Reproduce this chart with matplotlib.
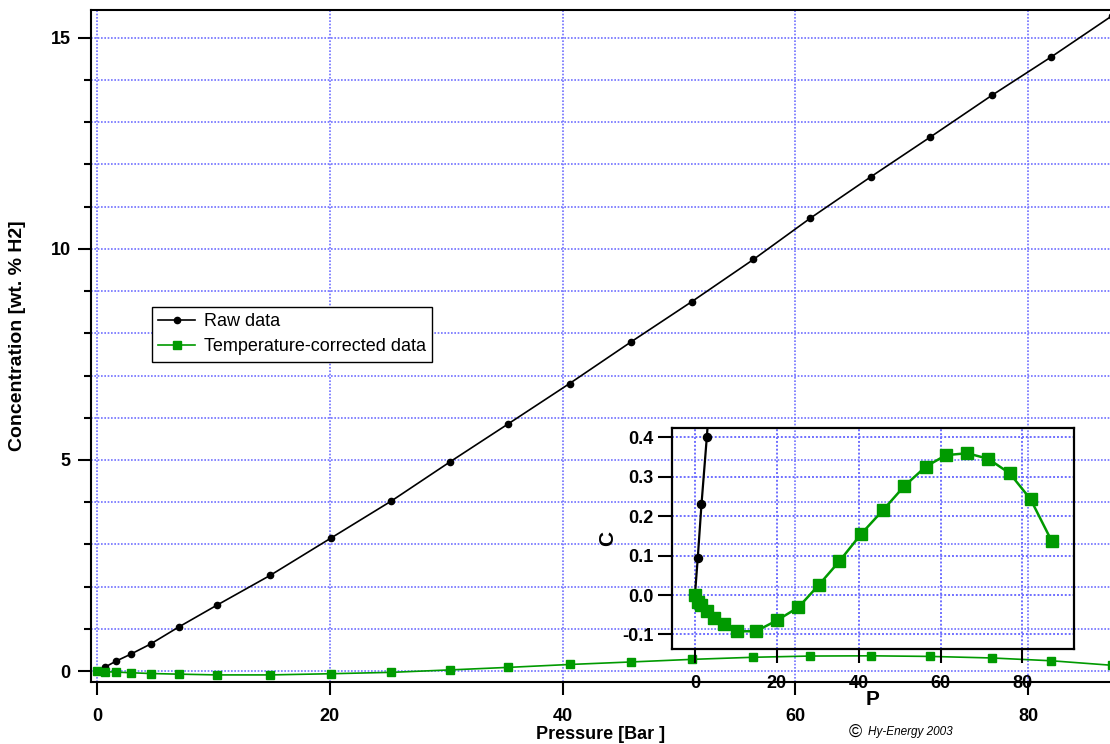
import matplotlib
matplotlib.use('Agg')
import matplotlib.pyplot as plt
from matplotlib.ticker import MultipleLocator

plt.rcParams['font.family'] = ['Liberation Sans', 'DejaVu Sans']

# Daten
pressure = [0, 0.7, 1.6, 2.9, 4.6, 7.0, 10.3, 14.9, 20.1, 25.3, 30.3, 35.3, 40.6,
            45.9, 51.1, 56.4, 61.3, 66.5, 71.6, 76.9, 82.0, 87.2]
raw = [0, 0.095, 0.23, 0.40, 0.64, 1.04, 1.56, 2.27, 3.15, 4.03, 4.95, 5.85, 6.81,
       7.80, 8.75, 9.75, 10.73, 11.71, 12.65, 13.64, 14.55, 15.52]
corrected = [0, -0.017, -0.025, -0.041, -0.059, -0.074, -0.092, -0.092, -0.064, -0.031,
             0.026, 0.086, 0.155, 0.215, 0.276, 0.326, 0.355, 0.360, 0.346, 0.309,
             0.243, 0.136]

green = '#009a00'
gridblue = '#6f6fff'

fig = plt.figure(figsize=(11.10, 7.44), dpi=100)
ax = fig.add_axes([91 / 1110, 62 / 744, 1019 / 1110, 672 / 744])

ax.plot(pressure, raw, color='black', lw=1.2, marker='o', ms=4.5, label='Raw data')
ax.plot(pressure, corrected, color=green, lw=1.2, marker='s', ms=6.4,
        label='Temperature-corrected data')

ax.set_xlim(-0.52, 87.04)
ax.set_ylim(-0.26, 15.66)
ax.set_xticks([0, 20, 40, 60, 80])
ax.yaxis.set_major_locator(MultipleLocator(5))
ax.yaxis.set_minor_locator(MultipleLocator(1))
ax.grid(True, which='both', axis='y', color=gridblue, ls=(0, (1, 1)), lw=1.2)
ax.grid(True, which='major', axis='x', color=gridblue, ls=(0, (1, 1)), lw=1.2)
ax.set_axisbelow(True)

ax.tick_params(axis='both', which='major', direction='out', length=9.5, width=1.5,
               labelsize=13)
ax.tick_params(axis='x', which='major', pad=9)
ax.tick_params(axis='y', which='major', pad=5)
ax.tick_params(axis='y', which='minor', direction='out', length=5, width=1.5)
for lbl in ax.get_xticklabels() + ax.get_yticklabels():
    lbl.set_fontweight('bold')

for s in ['left', 'top', 'bottom']:
    ax.spines[s].set_linewidth(1.5)
ax.spines['right'].set_visible(False)

ax.set_xlabel('Pressure [Bar ]', fontsize=13, fontweight='bold', labelpad=1)
ax.set_ylabel('Concentration [wt. % H2]', fontsize=14, fontweight='bold')
ax.yaxis.set_label_coords(-0.064, 0.515)

leg = ax.legend(loc='upper left', bbox_to_anchor=(0.060, 0.558), borderaxespad=0,
                fancybox=False, framealpha=1, edgecolor='black', fontsize=13,
                handlelength=2.0, handletextpad=0.5, borderpad=0.35, labelspacing=0.45)
leg.get_frame().set_linewidth(1.0)

# Ausschnitt
ins = fig.add_axes([672 / 1110, 95 / 744, 402 / 1110, 221 / 744])
ins.patch.set_alpha(0)
ins.plot(pressure, raw, color='black', lw=1.6, marker='o', ms=5.8)
ins.plot(pressure, corrected, color=green, lw=1.8, marker='s', ms=8)
ins.set_xlim(-5.6, 92.6)
ins.set_ylim(-0.137, 0.424)
ins.set_xticks([0, 20, 40, 60, 80])
ins.set_yticks([-0.1, 0.0, 0.1, 0.2, 0.3, 0.4])
ins.set_yticklabels(['-0.1', '0.0', '0.1', '0.2', '0.3', '0.4'])
ins.grid(True, color=gridblue, ls=(0, (1, 1)), lw=1.4)
ins.set_axisbelow(True)
ins.tick_params(axis='both', direction='out', length=10, width=1.5, labelsize=13)
ins.tick_params(axis='x', pad=9)
ins.tick_params(axis='y', pad=3)
for lbl in ins.get_xticklabels() + ins.get_yticklabels():
    lbl.set_fontweight('bold')
for s in ins.spines.values():
    s.set_linewidth(1.6)
ins.set_xlabel('P', fontsize=15, fontweight='bold', labelpad=-2)
ins.set_ylabel('C', fontsize=15, fontweight='bold', labelpad=4)

fig.text(0.765, 0.016, '©', fontsize=13, va='center')
fig.text(0.782, 0.016, 'Hy-Energy 2003', fontsize=8.5, style='italic', va='center')

fig.savefig('out.png', dpi=100)
